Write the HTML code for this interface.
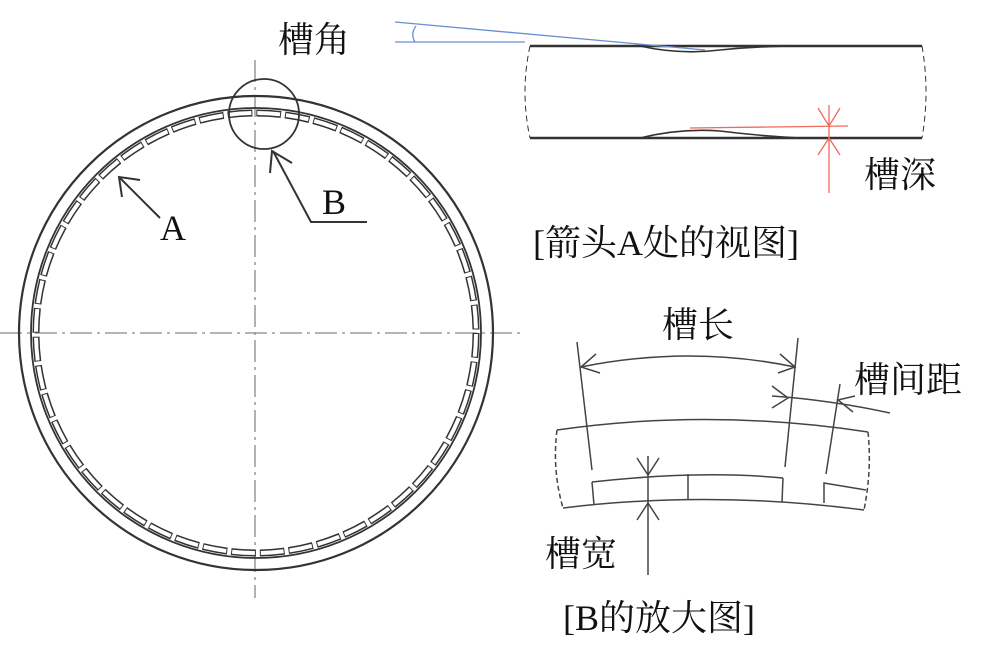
<!DOCTYPE html>
<html><head><meta charset="utf-8"><style>
body{margin:0;background:#fff;width:1000px;height:640px;overflow:hidden}
text{font-family:"Liberation Serif","Noto Serif CJK SC","Noto Sans CJK SC",serif;fill:#111}
</style></head><body>
<svg width="1000" height="640" viewBox="0 0 1000 640" xmlns="http://www.w3.org/2000/svg">
<g fill="none" stroke="#333">
<!-- centerlines -->
<line x1="0" y1="333" x2="520" y2="333" stroke="#888" stroke-width="1.3" stroke-dasharray="22,5,3,5"/>
<line x1="255" y1="60" x2="255" y2="598" stroke="#888" stroke-width="1.3" stroke-dasharray="22,5,3,5"/>
<!-- main rings -->
<circle cx="256" cy="333" r="237" stroke-width="2.2"/>
<circle cx="256" cy="333" r="225" stroke-width="1.8"/>
<circle cx="256" cy="333" r="220" stroke-width="7" stroke="#333" stroke-dasharray="24.8,4"/>
<circle cx="256" cy="333" r="220" stroke-width="4" stroke="#fff" stroke-dasharray="22.8,6" stroke-dashoffset="-1"/>
<!-- B circle -->
<circle cx="264" cy="114" r="35" stroke-width="1.8" fill="none"/>
<!-- A arrow -->
<line x1="160" y1="218" x2="120" y2="178" stroke-width="2"/>
<polyline points="122,197 119,177 140,180" stroke-width="2"/>
<!-- B arrow -->
<polyline points="367,222 311,222 273,151" stroke-width="2"/>
<polyline points="270,173 272,151 292,163" stroke-width="2"/>
<!-- top-right view -->
<path d="M530,46 L922,46" stroke-width="2.6"/>
<path d="M530,138 L922,138" stroke-width="2.6"/>
<path d="M530,46 Q520,92 530,138" stroke-width="1" stroke-dasharray="6,4"/>
<path d="M922,46 Q930,92 922,138" stroke-width="1" stroke-dasharray="6,4"/>
<path d="M640,46 Q680,55 720,50 Q760,46 800,46" stroke-width="1.6"/>
<path d="M640,138 Q680,128 720,131 Q760,136 800,138" stroke-width="1.6"/>
</g>
<!-- blue angle -->
<g stroke="#6a8fd0" fill="none" stroke-width="1.3">
<line x1="395" y1="22" x2="705" y2="50"/>
<line x1="395" y1="42" x2="525" y2="42"/>
<path d="M416,26 Q410,34 415,42"/>
</g>
<!-- red depth -->
<g stroke="#f06a5a" fill="none" stroke-width="1.3">
<line x1="690" y1="128" x2="848" y2="126"/>
<line x1="829" y1="105" x2="829" y2="193"/>
<polyline points="818,108 829,126 840,108"/>
<polyline points="818,155 829,138 840,155"/>
</g>
<!-- B enlarged -->
<g fill="none" stroke="#444" stroke-width="1.5">
<path d="M557,430 Q710,408 868,432"/>
<path d="M557,430 Q552,470 563,508" stroke-dasharray="5,3"/>
<path d="M868,432 Q872,470 864,510" stroke-dasharray="5,3"/>
<path d="M563,508 Q710,490 864,510"/>
<path d="M592,482 Q700,470 783,478"/>
<line x1="592" y1="482" x2="594" y2="505"/>
<line x1="783" y1="478" x2="782" y2="502"/>
<line x1="688" y1="474" x2="688" y2="500"/>
<polyline points="824,503 824,483 866,490"/>
<line x1="577" y1="342" x2="592" y2="470"/>
<line x1="798" y1="338" x2="785" y2="467"/>
<path d="M581,367 Q690,345 795,367"/>
<polyline points="596,354 581,367 600,373"/>
<polyline points="780,354 795,367 778,373"/>
<path d="M772,396 Q830,400 890,413"/>
<line x1="840" y1="384" x2="826" y2="474"/>
<polyline points="772,386 788,398 772,408"/>
<polyline points="855,396 838,400 853,412"/>
<line x1="648" y1="456" x2="648" y2="575"/>
<polyline points="637,458 648,475 659,458"/>
<polyline points="637,520 648,503 659,520"/>
</g>
<g font-size="36">
<text x="278" y="52">槽角</text>
<text x="864" y="187">槽深</text>
<text x="533" y="255">[箭头A处的视图]</text>
<text x="662" y="337">槽长</text>
<text x="854" y="392">槽间距</text>
<text x="545" y="566">槽宽</text>
<text x="563" y="630">[B的放大图]</text>
<text x="160" y="240">A</text>
<text x="322" y="214">B</text>
</g>
</svg>
</body></html>
